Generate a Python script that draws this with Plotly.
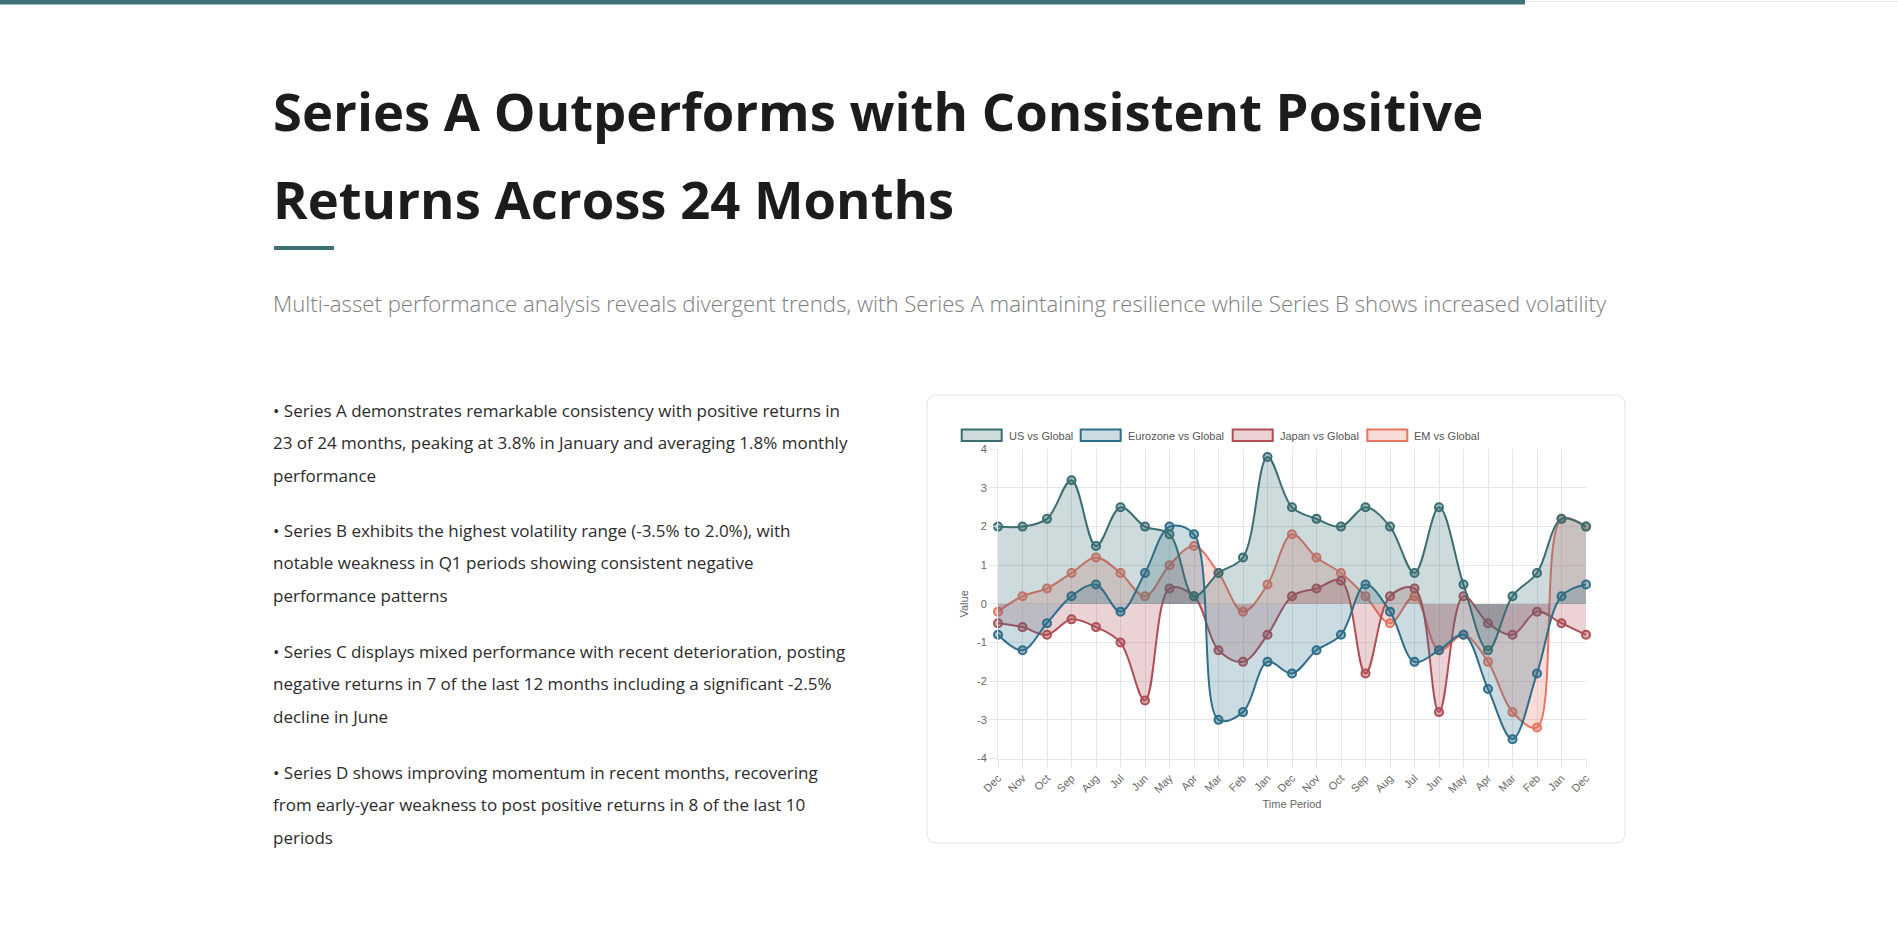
import plotly.graph_objects as go

W, H = 1898, 941

months = ["Dec", "Nov", "Oct", "Sep", "Aug", "Jul", "Jun", "May", "Apr", "Mar", "Feb", "Jan",
          "Dec", "Nov", "Oct", "Sep", "Aug", "Jul", "Jun", "May", "Apr", "Mar", "Feb", "Jan", "Dec"]

us_vs_global = [2.0, 2.0, 2.2, 3.2, 1.5, 2.5, 2.0, 1.8, 0.2, 0.8, 1.2, 3.8,
                2.5, 2.2, 2.0, 2.5, 2.0, 0.8, 2.5, 0.5, -1.2, 0.2, 0.8, 2.2, 2.0]
eurozone_vs_global = [-0.8, -1.2, -0.5, 0.2, 0.5, -0.2, 0.8, 2.0, 1.8, -3.0, -2.8, -1.5,
                      -1.8, -1.2, -0.8, 0.5, -0.2, -1.5, -1.2, -0.8, -2.2, -3.5, -1.8, 0.2, 0.5]
japan_vs_global = [-0.5, -0.6, -0.8, -0.4, -0.6, -1.0, -2.5, 0.4, 0.2, -1.2, -1.5, -0.8,
                   0.2, 0.4, 0.6, -1.8, 0.2, 0.4, -2.8, 0.2, -0.5, -0.8, -0.2, -0.5, -0.8]
em_vs_global = [-0.2, 0.2, 0.4, 0.8, 1.2, 0.8, 0.2, 1.0, 1.5, 0.8, -0.2, 0.5,
                1.8, 1.2, 0.8, 0.2, -0.5, 0.2, -1.2, -0.8, -1.5, -2.8, -3.2, 2.2, 2.0]

series_names = ["US vs Global", "Eurozone vs Global", "Japan vs Global", "EM vs Global"]
series_values = [us_vs_global, eurozone_vs_global, japan_vs_global, em_vs_global]
series_rgb = [(58, 110, 114), (46, 110, 138), (176, 78, 86), (232, 116, 98)]

y_ticks = [-4, -3, -2, -1, 0, 1, 2, 3, 4]

title_lines = ["Series A Outperforms with Consistent Positive", "Returns Across 24 Months"]
subtitle = ("Multi-asset performance analysis reveals divergent trends, with Series A "
            "maintaining resilience while Series B shows increased volatility")
bullets = [
    ["• Series A demonstrates remarkable consistency with positive returns in",
     "23 of 24 months, peaking at 3.8% in January and averaging 1.8% monthly",
     "performance"],
    ["• Series B exhibits the highest volatility range (-3.5% to 2.0%), with",
     "notable weakness in Q1 periods showing consistent negative",
     "performance patterns"],
    ["• Series C displays mixed performance with recent deterioration, posting",
     "negative returns in 7 of the last 12 months including a significant -2.5%",
     "decline in June"],
    ["• Series D shows improving momentum in recent months, recovering",
     "from early-year weakness to post positive returns in 8 of the last 10",
     "periods"],
]


def px(x):
    return x / W


def py(y):
    return 1 - y / H


def rgba(c, a):
    return f"rgba({c[0]},{c[1]},{c[2]},{a})"


def rgb(c):
    return f"rgb({c[0]},{c[1]},{c[2]})"


fig = go.Figure()
xs = list(range(len(months)))
for name, vals, col in reversed(list(zip(series_names, series_values, series_rgb))):
    fig.add_trace(go.Scatter(
        x=xs, y=vals, name=name, mode="lines+markers",
        line=dict(color=rgb(col), width=2, shape="spline", smoothing=1.0),
        fill="tozeroy", fillcolor=rgba(col, 0.25),
        marker=dict(size=8, color=rgba(col, 0.45), line=dict(color=rgb(col), width=2)),
        showlegend=False, cliponaxis=False, hoverinfo="x+y+name",
    ))

PLOT_L, PLOT_R, PLOT_T, PLOT_B = 998, 1586, 449.3, 758.5
CHART_FONT = "Liberation Sans, Arial, sans-serif"
GRID = "#e6e6e6"

fig.update_layout(
    width=W, height=H, autosize=False,
    margin=dict(l=0, r=0, t=0, b=0, pad=0, autoexpand=False),
    paper_bgcolor="white", plot_bgcolor="white",
    showlegend=False,
    xaxis=dict(
        domain=[px(PLOT_L), px(PLOT_R)], range=[0, len(months) - 1],
        tickmode="array", tickvals=xs, ticktext=months, tickangle=-45,
        showgrid=True, gridcolor=GRID, gridwidth=1, zeroline=False,
        showline=True, linecolor=GRID, linewidth=1,
        ticks="outside", ticklen=8, tickcolor=GRID, automargin=False,
        tickfont=dict(family=CHART_FONT, size=11, color="#666"),
        title=dict(text="Time Period", font=dict(family=CHART_FONT, size=11, color="#666"), standoff=6),
        fixedrange=True,
    ),
    yaxis=dict(
        domain=[py(PLOT_B), py(PLOT_T)], range=[-4, 4],
        tickmode="array", tickvals=y_ticks, ticktext=[str(v) for v in y_ticks],
        showgrid=True, gridcolor=GRID, gridwidth=1, zeroline=False,
        showline=True, linecolor=GRID, linewidth=1,
        ticks="outside", ticklen=8, tickcolor=GRID, automargin=False,
        tickfont=dict(family=CHART_FONT, size=11, color="#666"),
        title=dict(text="Value", font=dict(family=CHART_FONT, size=11, color="#666"), standoff=6),
        fixedrange=True,
    ),
)

shapes = []
annotations = []

# top progress bar
shapes.append(dict(type="rect", xref="paper", yref="paper", x0=0, x1=px(1525), y0=py(4.5), y1=py(0),
                   fillcolor="#3f7177", line=dict(width=0), layer="above"))
shapes.append(dict(type="rect", xref="paper", yref="paper", x0=px(1525), x1=1, y0=py(2), y1=py(1),
                   fillcolor="#ebe6f0", line=dict(width=0), layer="above"))

# card
cx0, cy0, cx1, cy1, r = 927, 395, 1625, 843, 10
path = (f"M {px(cx0 + r)},{py(cy0)} L {px(cx1 - r)},{py(cy0)} Q {px(cx1)},{py(cy0)} {px(cx1)},{py(cy0 + r)} "
        f"L {px(cx1)},{py(cy1 - r)} Q {px(cx1)},{py(cy1)} {px(cx1 - r)},{py(cy1)} "
        f"L {px(cx0 + r)},{py(cy1)} Q {px(cx0)},{py(cy1)} {px(cx0)},{py(cy1 - r)} "
        f"L {px(cx0)},{py(cy0 + r)} Q {px(cx0)},{py(cy0)} {px(cx0 + r)},{py(cy0)} Z")
shapes.append(dict(type="path", xref="paper", yref="paper", path=path,
                   fillcolor="rgba(255,255,255,0)", line=dict(color="#e3e3e3", width=1), layer="below"))

# accent under title
shapes.append(dict(type="rect", xref="paper", yref="paper", x0=px(274), x1=px(334), y0=py(250), y1=py(246),
                   fillcolor="#3f7177", line=dict(width=0)))

# title
TITLE_FONT = "Open Sans, Noto Sans, sans-serif"
for i, line in enumerate(title_lines):
    annotations.append(dict(xref="paper", yref="paper", x=px(271), y=py(110 + 89 * i),
                            xanchor="left", yanchor="middle", showarrow=False, text=line,
                            font=dict(family=TITLE_FONT, size=52.6, color="#1c1c1c", weight=700)))

annotations.append(dict(xref="paper", yref="paper", x=px(271), y=py(304),
                        xanchor="left", yanchor="middle", showarrow=False, text=subtitle,
                        font=dict(family=TITLE_FONT, size=22.2, color="#7d7d7d", weight=300)))

# bullets
group_tops = [410.4, 530.2, 651.3, 772.3]
for top, group in zip(group_tops, bullets):
    for j, line in enumerate(group):
        annotations.append(dict(xref="paper", yref="paper", x=px(271), y=py(top + 32.6 * j),
                                xanchor="left", yanchor="middle", showarrow=False, text=line,
                                font=dict(family=TITLE_FONT, size=17, color="#2b2b2b")))

# legend
legend_boxes = [961.7, 1080.7, 1232.7, 1367.3]
for name, col, bx in zip(series_names, series_rgb, legend_boxes):
    shapes.append(dict(type="rect", xref="paper", yref="paper", x0=px(bx), x1=px(bx + 40),
                       y0=py(441), y1=py(429.5), fillcolor=rgba(col, 0.25),
                       line=dict(color=rgb(col), width=2)))
    annotations.append(dict(xref="paper", yref="paper", x=px(bx + 45), y=py(435.5),
                            xanchor="left", yanchor="middle", showarrow=False, text=name,
                            font=dict(family=CHART_FONT, size=11, color="#555")))

fig.update_layout(shapes=shapes, annotations=annotations)

page_css = ("var st=document.createElement('style');"
            "st.textContent='html,body{margin:0!important;padding:0!important;overflow:hidden!important;background:#fff;}';"
            "document.head.appendChild(st);")
fig.write_html("out.html", post_script=page_css)
